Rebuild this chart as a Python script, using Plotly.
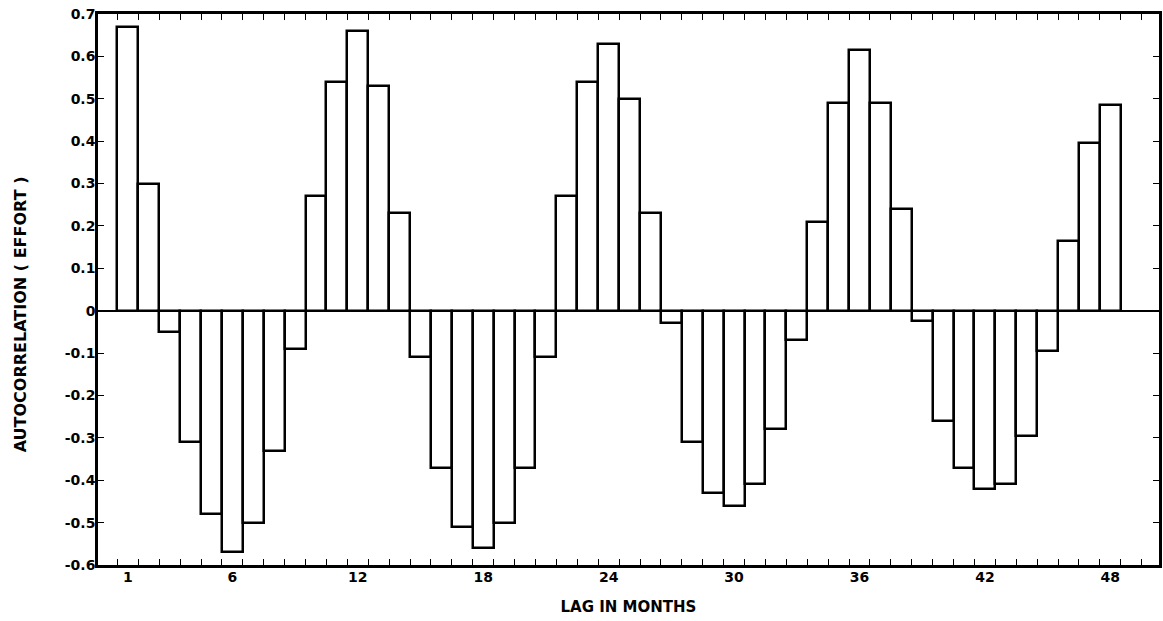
import plotly.graph_objects as go

# ---- data ----
lags = list(range(1, 49))
autocorr = [
    0.67, 0.30, -0.05, -0.31, -0.48, -0.57, -0.50, -0.33, -0.09, 0.27,
    0.54, 0.66, 0.53, 0.23, -0.11, -0.37, -0.51, -0.56, -0.50, -0.37,
    -0.11, 0.27, 0.54, 0.63, 0.50, 0.23, -0.03, -0.31, -0.43, -0.46,
    -0.41, -0.28, -0.07, 0.21, 0.49, 0.615, 0.49, 0.24, -0.025, -0.26,
    -0.37, -0.42, -0.41, -0.295, -0.095, 0.165, 0.395, 0.485,
]
x_label_vals = [1, 6, 12, 18, 24, 30, 36, 42, 48]
x_label_text = ["1", "6", "12", "18", "24", "30", "36", "42", "48"]
x_minor_ticks = [k + 0.5 for k in range(0, 50)]
y_tick_vals = [0.7, 0.6, 0.5, 0.4, 0.3, 0.2, 0.1, 0.0, -0.1, -0.2, -0.3, -0.4, -0.5, -0.6]
y_tick_text = ["0.7", "0.6", "0.5", "0.4", "0.3", "0.2", "0.1", "0",
               "-0.1", "-0.2", "-0.3", "-0.4", "-0.5", "-0.6"]
x_title = "LAG IN MONTHS"
y_title = "AUTOCORRELATION ( EFFORT )"

FONT = "DejaVu Sans"

fig = go.Figure()
fig.add_trace(go.Bar(
    x=lags, y=autocorr, width=1.0,
    marker=dict(color="white", line=dict(color="black", width=2.5)),
    showlegend=False, hoverinfo="skip",
))

fig.update_layout(
    width=1163, height=621,
    margin=dict(l=98, r=1, t=14, b=56),
    paper_bgcolor="white", plot_bgcolor="white",
    bargap=0,
    font=dict(family=FONT, color="black"),
    xaxis=dict(
        range=[-0.43, 50.33],
        showgrid=False, zeroline=False,
        showline=True, linecolor="black", linewidth=2.5, mirror="ticks",
        tickmode="array", tickvals=x_label_vals, ticktext=x_label_text,
        ticks="", ticklabelstandoff=-3,
        tickfont=dict(family=FONT, size=14, weight="bold", color="black"),
        minor=dict(tickmode="array", tickvals=x_minor_ticks, ticks="inside",
                   ticklen=6, tickwidth=1.2, tickcolor="black", showgrid=False),
        title=dict(text=x_title, standoff=18,
                   font=dict(family=FONT, size=15, weight="bold", color="black")),
    ),
    yaxis=dict(
        range=[-0.6, 0.7],
        showgrid=False,
        zeroline=True, zerolinecolor="black", zerolinewidth=2,
        showline=True, linecolor="black", linewidth=2.5, mirror="ticks",
        tickmode="array", tickvals=y_tick_vals, ticktext=y_tick_text,
        ticks="inside", ticklen=6, tickwidth=1.2, tickcolor="black",
        ticklabelstandoff=-3,
        tickfont=dict(family=FONT, size=14, weight="bold", color="black"),
    ),
    annotations=[dict(
        text=y_title, textangle=-90,
        xref="paper", yref="y", x=-0.0733, y=-0.008,
        xanchor="center", yanchor="middle", showarrow=False,
        font=dict(family=FONT, size=16, weight="bold", color="black"),
    )],
)

post = ("document.body.style.margin='0';document.body.style.overflow='hidden';"
        "var gd=document.getElementById('{plot_id}');"
        "Plotly.relayout(gd,{width:1163,height:621});")
fig.write_html("out.html",
               config={"responsive": False, "displayModeBar": False},
               post_script=post)
